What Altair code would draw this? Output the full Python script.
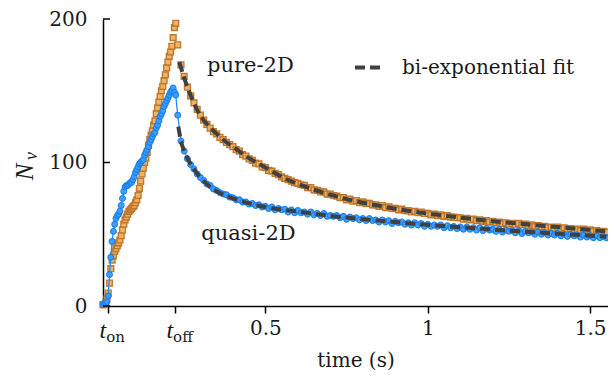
import altair as alt
import pandas as pd

# ---------------- data ----------------
T_ON = 0.016
T_OFF = 0.222
x_tick_values = [T_ON, T_OFF, 0.5, 1.0, 1.5]
y_tick_values = [0, 100, 200]

ramp_step = 0.004  # t = 0, 0.004, ... 0.224
pure_ramp = [1, 1, 2, 5, 9, 16, 26, 32, 35, 38,
             40, 42, 44, 46, 49, 53, 57, 60, 62, 64,
             66, 67, 68, 69, 70, 72, 74, 77, 82, 87,
             92, 96, 100, 103, 107, 112, 116, 119, 122, 126,
             129, 134, 138, 142, 146, 150, 153, 157, 161, 166,
             170, 174, 177, 181, 187, 194, 197]
quasi_ramp = [1, 2, 2, 3, 7, 22, 34, 45, 52, 57,
              61, 63, 64, 66, 70, 75, 80, 83, 84, 84,
              85, 86, 86, 88, 90, 93, 95, 97, 99, 100,
              101, 102, 105, 107, 109, 111, 114, 116, 118, 120,
              121, 124, 126, 129, 132, 134, 136, 139, 141, 143,
              145, 147, 149, 150, 152, 149, 147]

decay_start = 0.23
decay_step = 0.01  # t = 0.23 ... 1.55
pure_decay = [182, 168, 160, 152.5, 146.5, 141.5, 137, 133, 129.5, 126.5,
              124, 121.5, 120, 117.5, 116, 114, 112.5, 111, 109, 108,
              105.5, 104.5, 102.5, 101.5, 99.5, 99, 97, 96.5, 94.5, 94,
              92.5, 91.5, 90, 89, 88, 87, 86, 85.5, 84.5, 84,
              82.5, 82.5, 81, 80.5, 79.5, 79.5, 78, 78, 77, 76.5,
              75.5, 75.5, 74, 74.5, 73, 73.5, 72, 72.5, 71.5, 71.5,
              70.5, 70.5, 69.5, 70, 68.5, 69, 68, 68, 67, 67.5,
              66.5, 66.5, 65.5, 66, 65, 65.5, 64.5, 64.5, 63.5, 64,
              63, 63.5, 62.5, 63, 62, 62, 61.5, 61.5, 60.5, 61,
              60, 60.5, 59.5, 60, 59, 59.5, 58.5, 59, 58, 58.5,
              57.5, 58, 57, 57.5, 56.5, 57.5, 56.5, 57, 56, 56.5,
              55.5, 56, 55, 55.5, 54.5, 55, 54, 55, 54, 54.5,
              53.5, 54, 53, 53.5, 52.5, 53.5, 52.5, 53, 52, 52.5,
              51.5, 52, 51.5]
quasi_decay = [133, 115, 108, 102.5, 98.5, 95.5, 92, 89.5, 87.5, 85,
               84, 81.5, 80.5, 79, 78, 77.5, 76, 75.5, 74, 74,
               72.5, 72.5, 71, 71.5, 70, 70.5, 69, 69.5, 68, 69,
               67, 68, 67, 67.5, 65.5, 67, 65, 66.5, 65, 65.5,
               64, 65.5, 63.5, 64.5, 63, 64.5, 62.5, 63, 62.5, 63,
               61.5, 62.5, 60.5, 62, 61, 61.5, 60, 61, 59.5, 61,
               59.5, 60, 58.5, 60, 58.5, 59.5, 57.5, 59, 58, 58.5,
               57, 58, 56.5, 58, 56.5, 57.5, 55.5, 57, 55.5, 56.5,
               55.5, 56.5, 54.5, 56, 54.5, 55.5, 54, 55, 53.5, 55,
               53.5, 54.5, 53, 54.5, 52.5, 54, 53, 53.5, 52, 53.5,
               51.5, 53, 52, 52.5, 51, 52.5, 50.5, 52, 51, 51.5,
               50, 51.5, 50, 51, 49.5, 50.5, 49.5, 50.5, 49, 50,
               48.5, 50, 49, 49.5, 48, 49.5, 48, 49, 47.5, 49,
               47.5, 48.5, 47.5]

pure_fit_t = [0.235, 0.25, 0.275, 0.30, 0.325, 0.35, 0.375, 0.40, 0.45, 0.50,
              0.55, 0.60, 0.65, 0.70, 0.75, 0.80, 0.85, 0.90, 0.95, 1.00,
              1.05, 1.10, 1.15, 1.20, 1.25, 1.30, 1.35, 1.40, 1.45, 1.50, 1.55]
pure_fit_n = [170, 159, 144, 132.5, 125.5, 120, 115, 111, 103, 96.5,
              90, 85, 81, 77.5, 74.5, 72, 69.8, 67.8, 66, 64.4,
              63, 61.6, 60.3, 59.1, 58, 57, 56, 55, 54, 53, 52]
quasi_fit_t = [0.232, 0.24, 0.25, 0.26, 0.275, 0.30, 0.325, 0.35, 0.40, 0.45,
               0.50, 0.55, 0.60, 0.65, 0.70, 0.75, 0.80, 0.85, 0.90, 0.95,
               1.00, 1.05, 1.10, 1.15, 1.20, 1.25, 1.30, 1.35, 1.40, 1.45,
               1.50, 1.55]
quasi_fit_n = [125, 115, 108, 103, 97, 89.5, 84, 80, 75, 71.5,
               69, 67.2, 65.8, 64.3, 62.8, 61.6, 60.5, 59.5, 58.5, 57.5,
               56.6, 55.7, 54.9, 54.1, 53.3, 52.5, 51.8, 51.1, 50.4, 49.7,
               49.0, 48.3]

series_labels = ["pure-2D", "quasi-2D"]
label_t = [0.454, 0.448]
label_n = [163, 46]
fit_label = "bi-exponential fit"

# ---------------- tables ----------------
def series(ramp, decay, name):
    t = [round(i * ramp_step, 4) for i in range(len(ramp))]
    t += [round(decay_start + i * decay_step, 4) for i in range(len(decay))]
    return pd.DataFrame({"t": t, "N": list(ramp) + list(decay), "series": name})

pure_df = series(pure_ramp, pure_decay, "pure")
quasi_df = series(quasi_ramp, quasi_decay, "quasi")
fit_df = pd.concat([
    pd.DataFrame({"t": pure_fit_t, "N": pure_fit_n, "curve": "pure", "label": fit_label}),
    pd.DataFrame({"t": quasi_fit_t, "N": quasi_fit_n, "curve": "quasi", "label": fit_label}),
])
text_df = pd.DataFrame({"t": label_t, "N": label_n, "label": series_labels})
ytick_df = pd.DataFrame({"N": y_tick_values})
tsub_df = pd.DataFrame({"t": [T_ON, T_OFF], "main": ["t", "t"], "sub": ["on", "off"]})

FONT = "DejaVu Serif"
MATH = "Liberation Serif"
TXT = "#1a1a1a"
X_MAX = 1.555

xs = alt.Scale(domain=[0, X_MAX], nice=False, zero=False)
ys = alt.Scale(domain=[0, 200], nice=False)

x_main = alt.X("t:Q", scale=xs, axis=alt.Axis(
    values=x_tick_values,
    labelExpr="datum.value > 0.3 ? format(datum.value, '~g') : ''",
    title="time (s)", tickSize=7, labelPadding=5, titlePadding=12))
y_main = alt.Y("N:Q", scale=ys, axis=alt.Axis(
    values=y_tick_values, title=None, ticks=False, tickSize=0, labelPadding=16))

pure_pts = alt.Chart(pure_df).mark_point(
    shape="square", filled=True, size=34, fill="#f0b060", stroke="#bd7427",
    strokeWidth=1.4, opacity=0.95
).encode(x=x_main, y=y_main)

quasi_line = alt.Chart(quasi_df).mark_line(
    color="#1f8bf3", strokeWidth=1.3
).encode(x=alt.X("t:Q", scale=xs), y=alt.Y("N:Q", scale=ys), order="t:Q")

quasi_pts = alt.Chart(quasi_df).mark_point(
    shape="circle", filled=True, size=32, fill="#3d9fff", stroke="#1a80ee",
    strokeWidth=1.3, opacity=0.95
).encode(x=alt.X("t:Q", scale=xs), y=alt.Y("N:Q", scale=ys))

fits = alt.Chart(fit_df).mark_line(
    color="#404040", strokeWidth=4, interpolate="monotone"
).encode(
    x=alt.X("t:Q", scale=xs), y=alt.Y("N:Q", scale=ys), detail="curve:N",
    strokeDash=alt.StrokeDash("label:N",
        scale=alt.Scale(domain=[fit_label], range=[[10, 5]]),
        legend=alt.Legend(title=None, orient="none", legendX=250, legendY=34,
                          symbolType="stroke", symbolSize=625, symbolStrokeWidth=4,
                          symbolStrokeColor="#404040", labelFont=FONT, labelFontSize=20,
                          labelColor=TXT, labelOffset=20, labelLimit=400, padding=0)),
)

labels = alt.Chart(text_df).mark_text(
    font=FONT, fontSize=21, color=TXT, align="center", baseline="alphabetic"
).encode(x=alt.X("t:Q", scale=xs), y=alt.Y("N:Q", scale=ys), text="label:N")

yticks = alt.Chart(ytick_df).mark_rule(color="black", strokeWidth=1.5).encode(
    y=alt.Y("N:Q", scale=ys), x=alt.value(0), x2=alt.value(7))

t_main = alt.Chart(tsub_df).mark_text(
    font=MATH, fontSize=24, fontStyle="italic", color=TXT, align="right",
    baseline="alphabetic", dx=-2
).encode(x=alt.X("t:Q", scale=xs), y=alt.value(319), text="main:N")
t_sub = alt.Chart(tsub_df).mark_text(
    font=FONT, fontSize=15, color=TXT, align="left", baseline="alphabetic", dx=-2
).encode(x=alt.X("t:Q", scale=xs), y=alt.value(323), text="sub:N")

ytitle_n = alt.Chart(pd.DataFrame({"s": ["N"]})).mark_text(
    font=MATH, fontSize=25, fontStyle="italic", color=TXT, angle=270,
    align="center", baseline="alphabetic"
).encode(x=alt.value(-70), y=alt.value(153), text="s:N")
ytitle_v = alt.Chart(pd.DataFrame({"s": ["v"]})).mark_text(
    font=MATH, fontSize=18, fontStyle="italic", color=TXT, angle=270,
    align="center", baseline="alphabetic"
).encode(x=alt.value(-66), y=alt.value(137), text="s:N")

chart = alt.layer(
    pure_pts, quasi_line, quasi_pts, fits, labels, yticks, t_main, t_sub, ytitle_n, ytitle_v
).properties(
    width=505, height=287,
    autosize=alt.AutoSizeParams(type="none"),
    padding={"left": 95, "top": 11, "right": 0, "bottom": 70},
).configure_axis(
    grid=False, domainColor="black", domainWidth=1.5, tickColor="black", tickWidth=1.5,
    labelFont=FONT, labelFontSize=20, labelColor=TXT,
    titleFont=FONT, titleFontSize=20, titleColor=TXT, titleFontWeight="normal",
).configure_view(stroke=None)

chart.save("out.html", embed_options={"renderer": "svg", "actions": False})
